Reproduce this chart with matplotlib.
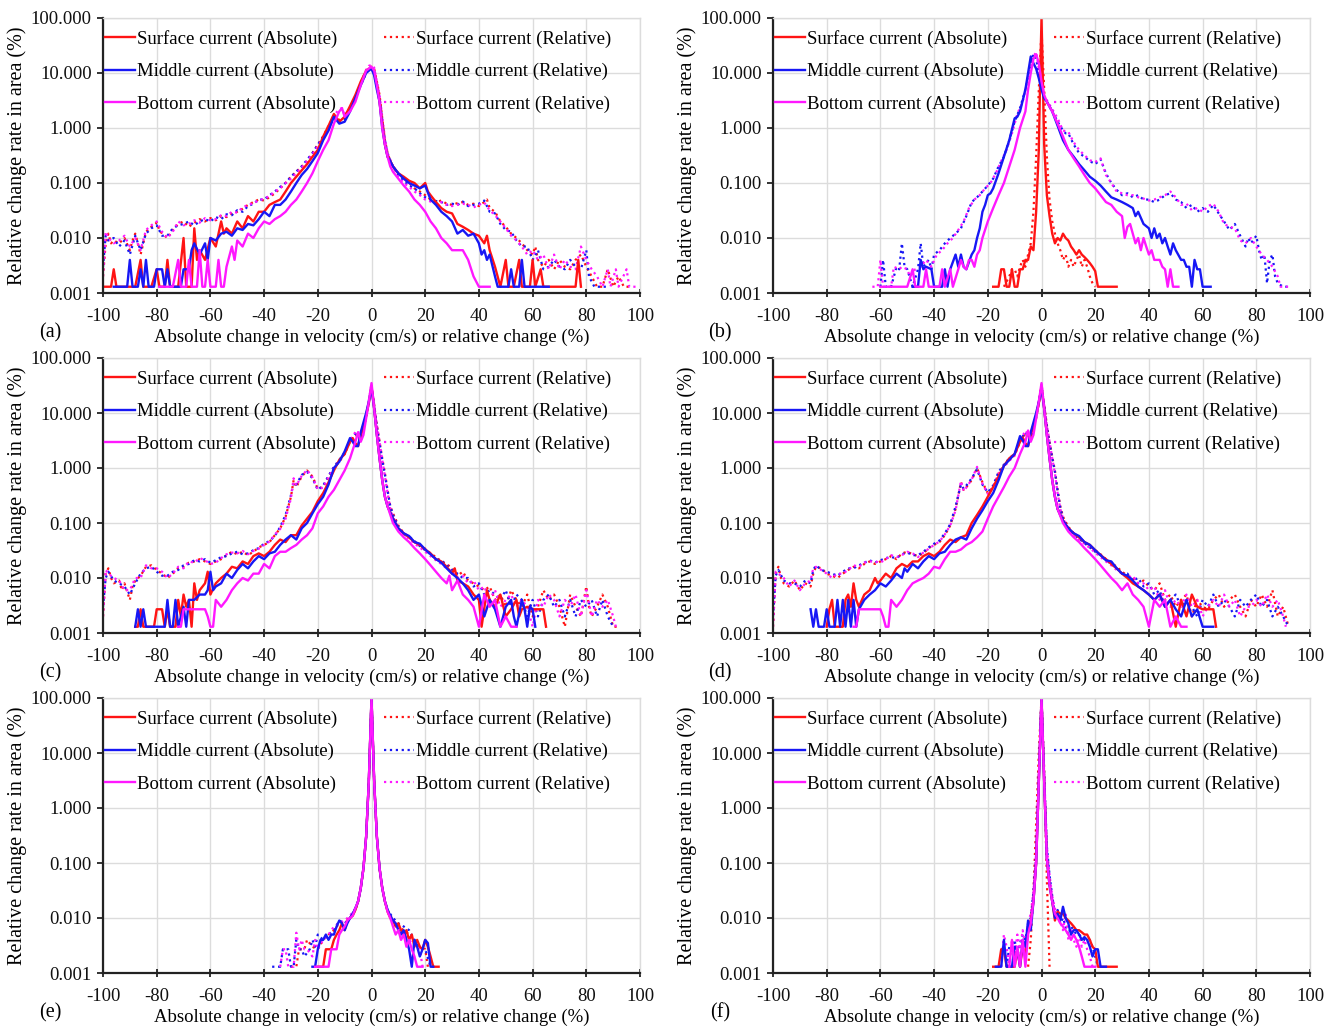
import matplotlib
matplotlib.use("Agg")
import matplotlib.pyplot as plt
from matplotlib.ticker import FixedLocator, FuncFormatter

plt.rcParams['font.family'] = ['Liberation Serif', 'DejaVu Serif']

# Etiquetas
LABELS = ["Surface current (Absolute)", "Middle current (Absolute)", "Bottom current (Absolute)",
          "Surface current (Relative)", "Middle current (Relative)", "Bottom current (Relative)"]
X_LABEL = "Absolute change in velocity (cm/s) or relative change (%)"
Y_LABEL = "Relative change rate in area (%)"
LETTERS = ["(a)", "(b)", "(c)", "(d)", "(e)", "(f)"]
X_TICKS = [-100, -80, -60, -40, -20, 0, 20, 40, 60, 80, 100]
Y_TICKS = [0.001, 0.01, 0.1, 1, 10, 100]

# ---------------- Panel (a) ----------------
A_SURF_ABS = [(-100, 0.0013), (-97, 0.0013), (-96, 0.0027), (-95, 0.0013), (-88, 0.0013), (-86, 0.004),
              (-85, 0.0013), (-82, 0.0013), (-80, 0.0027), (-79, 0.0013), (-77, 0.0013), (-76, 0.004),
              (-75, 0.0013), (-72, 0.0013), (-70, 0.01), (-69, 0.0013), (-67, 0.0013), (-66, 0.015),
              (-65, 0.004), (-64, 0.006), (-62, 0.004), (-60, 0.01), (-58, 0.007), (-56, 0.02), (-55, 0.012),
              (-54, 0.015), (-52, 0.012), (-50, 0.02), (-48, 0.015), (-46, 0.025), (-44, 0.02), (-42, 0.03),
              (-40, 0.03), (-38, 0.04), (-36, 0.045), (-34, 0.05), (-32, 0.07), (-30, 0.1), (-28, 0.13),
              (-26, 0.17), (-24, 0.22), (-22, 0.3), (-20, 0.4), (-18, 0.7), (-16, 1.1), (-14, 1.8), (-12, 1.3),
              (-10, 1.6), (-8, 2.5), (-6, 4), (-4, 7), (-2, 11), (-1, 12), (0, 12), (1, 10), (2, 6), (3, 3),
              (4, 1.2), (5, 0.5), (6, 0.3), (7, 0.25), (8, 0.2), (10, 0.15), (12, 0.13), (14, 0.11), (16, 0.1),
              (18, 0.08), (20, 0.1), (21, 0.07), (22, 0.06), (24, 0.045), (26, 0.035), (28, 0.03), (30, 0.028),
              (32, 0.018), (34, 0.016), (36, 0.014), (38, 0.012), (40, 0.011), (42, 0.008), (43, 0.011),
              (44, 0.006), (46, 0.003), (48, 0.0013), (50, 0.004), (51, 0.0013), (53, 0.0013), (55, 0.004),
              (56, 0.0013), (59, 0.0013), (60, 0.004), (61, 0.0013), (63, 0.0027), (64, 0.0013), (76, 0.0013),
              (77, 0.004), (78, 0.0013)]
A_MID_ABS = [(-96, 0.0013), (-91, 0.0013), (-90, 0.004), (-89, 0.0013), (-87, 0.0013), (-86, 0.0027),
             (-85, 0.0013), (-84, 0.004), (-83, 0.0013), (-81, 0.0013), (-80, 0.0027), (-78, 0.0027),
             (-77, 0.0013), (-76, 0.0027), (-75, 0.0013), (-71, 0.0013), (-70, 0.0027), (-68, 0.0027),
             (-67, 0.006), (-66, 0.008), (-64, 0.005), (-62, 0.008), (-61, 0.004), (-60, 0.01), (-58, 0.009),
             (-56, 0.012), (-54, 0.013), (-52, 0.011), (-50, 0.015), (-48, 0.014), (-46, 0.018), (-44, 0.017),
             (-42, 0.022), (-40, 0.03), (-38, 0.025), (-36, 0.04), (-34, 0.04), (-32, 0.05), (-30, 0.07),
             (-28, 0.1), (-26, 0.14), (-24, 0.18), (-22, 0.25), (-20, 0.35), (-18, 0.6), (-16, 0.9), (-14, 1.6),
             (-12, 1.2), (-10, 1.3), (-8, 2), (-6, 3.5), (-4, 6), (-2, 10), (-1, 11), (0, 12), (1, 9), (2, 5),
             (3, 3), (4, 1), (5, 0.5), (6, 0.3), (7, 0.25), (8, 0.2), (10, 0.15), (12, 0.12), (14, 0.1),
             (16, 0.09), (18, 0.08), (20, 0.09), (22, 0.05), (24, 0.04), (26, 0.03), (28, 0.025), (30, 0.02),
             (32, 0.012), (34, 0.014), (36, 0.011), (38, 0.012), (40, 0.008), (41, 0.005), (42, 0.006),
             (43, 0.004), (44, 0.005), (46, 0.002), (47, 0.0013), (51, 0.0013), (52, 0.0027), (53, 0.0013),
             (55, 0.0013), (56, 0.004), (57, 0.0013), (66, 0.0013)]
A_BOT_ABS = [(-79, 0.0013), (-74, 0.0013), (-72, 0.004), (-71, 0.0013), (-69, 0.0013), (-68, 0.004),
             (-67, 0.0013), (-65, 0.0013), (-64, 0.006), (-63, 0.0013), (-62, 0.0013), (-61, 0.004),
             (-60, 0.0013), (-58, 0.0013), (-57, 0.004), (-56, 0.0013), (-55, 0.0013), (-54, 0.003),
             (-52, 0.007), (-51, 0.004), (-50, 0.009), (-48, 0.007), (-46, 0.012), (-44, 0.01), (-42, 0.015),
             (-40, 0.02), (-38, 0.018), (-36, 0.022), (-34, 0.025), (-32, 0.03), (-30, 0.04), (-28, 0.05),
             (-26, 0.07), (-24, 0.1), (-22, 0.15), (-20, 0.25), (-18, 0.4), (-16, 0.6), (-14, 1.2), (-12, 2),
             (-11, 2.3), (-10, 1.6), (-8, 2), (-6, 3), (-4, 6), (-2, 11), (-1, 12), (0, 13), (1, 11), (2, 6),
             (3, 3), (4, 1), (5, 0.5), (6, 0.3), (7, 0.2), (8, 0.16), (10, 0.12), (12, 0.09), (14, 0.07),
             (16, 0.05), (18, 0.04), (20, 0.03), (22, 0.02), (24, 0.015), (26, 0.01), (28, 0.008), (30, 0.006),
             (32, 0.006), (34, 0.006), (36, 0.004), (38, 0.002), (40, 0.0013), (44, 0.0013)]
A_SURF_REL = [(-100, 0.002), (-99, 0.008), (-98, 0.012), (-97, 0.008), (-96, 0.009), (-94, 0.008), (-92, 0.01),
              (-90, 0.006), (-89, 0.009), (-88, 0.012), (-87, 0.008), (-86, 0.005), (-85, 0.008), (-84, 0.013),
              (-82, 0.016), (-80, 0.019), (-79, 0.014), (-78, 0.012), (-76, 0.01), (-74, 0.014), (-72, 0.018),
              (-70, 0.02), (-68, 0.016), (-66, 0.019), (-64, 0.022), (-62, 0.02), (-60, 0.023), (-58, 0.021),
              (-56, 0.025), (-54, 0.024), (-52, 0.028), (-50, 0.03), (-48, 0.034), (-46, 0.04), (-44, 0.045),
              (-42, 0.05), (-40, 0.048), (-38, 0.055), (-36, 0.065), (-34, 0.08), (-32, 0.1), (-30, 0.13),
              (-28, 0.16), (-26, 0.2), (-24, 0.25), (-22, 0.35), (-20, 0.5), (-18, 0.7), (-16, 1.1), (-14, 1.6),
              (-12, 1.4), (-10, 1.5), (-8, 2.3), (-6, 3.6), (-4, 6.5), (-2, 11), (-1, 13), (0, 13), (1, 12),
              (2, 7), (3, 4), (4, 1.5), (5, 0.6), (6, 0.35), (7, 0.25), (8, 0.2), (10, 0.15), (12, 0.12),
              (14, 0.1), (16, 0.08), (18, 0.07), (20, 0.06), (22, 0.05), (24, 0.045), (26, 0.048), (28, 0.042),
              (30, 0.04), (32, 0.043), (34, 0.045), (36, 0.04), (38, 0.042), (40, 0.038), (42, 0.045),
              (43, 0.05), (44, 0.035), (46, 0.03), (48, 0.02), (50, 0.016), (52, 0.012), (54, 0.01),
              (56, 0.008), (58, 0.006), (60, 0.005), (61, 0.007), (62, 0.004), (64, 0.003), (66, 0.004),
              (68, 0.0027), (70, 0.004), (72, 0.003), (74, 0.0027), (76, 0.004), (78, 0.005), (80, 0.003),
              (82, 0.002), (84, 0.0013), (86, 0.0013), (88, 0.0027), (90, 0.0013), (92, 0.002), (94, 0.0013),
              (96, 0.0013)]
A_MID_REL = [(-100, 0.003), (-99, 0.011), (-98, 0.009), (-96, 0.01), (-94, 0.007), (-92, 0.009), (-90, 0.005),
             (-88, 0.011), (-86, 0.006), (-84, 0.012), (-82, 0.015), (-80, 0.017), (-78, 0.011), (-76, 0.011),
             (-74, 0.015), (-72, 0.017), (-70, 0.018), (-68, 0.02), (-66, 0.017), (-64, 0.02), (-62, 0.022),
             (-60, 0.02), (-58, 0.024), (-56, 0.022), (-54, 0.027), (-52, 0.026), (-50, 0.032), (-48, 0.03),
             (-46, 0.038), (-44, 0.042), (-42, 0.05), (-40, 0.05), (-38, 0.06), (-36, 0.07), (-34, 0.085),
             (-32, 0.1), (-30, 0.13), (-26, 0.2), (-22, 0.35), (-18, 0.7), (-16, 1.0), (-14, 1.5), (-12, 1.3),
             (-10, 1.4), (-8, 2.2), (-6, 3.5), (-4, 6), (-2, 10), (-1, 12), (0, 12.5), (1, 11), (2, 6.5),
             (3, 3.5), (4, 1.4), (5, 0.6), (6, 0.33), (8, 0.2), (10, 0.14), (12, 0.11), (14, 0.09), (16, 0.08),
             (18, 0.065), (20, 0.055), (22, 0.05), (24, 0.047), (26, 0.045), (28, 0.04), (30, 0.042),
             (32, 0.04), (34, 0.046), (36, 0.038), (38, 0.04), (40, 0.042), (42, 0.048), (44, 0.03),
             (46, 0.028), (48, 0.018), (50, 0.014), (52, 0.013), (54, 0.009), (56, 0.007), (58, 0.007),
             (60, 0.004), (62, 0.006), (64, 0.0027), (66, 0.003), (68, 0.004), (70, 0.003), (72, 0.0027),
             (74, 0.004), (76, 0.003), (78, 0.0027), (80, 0.006), (81, 0.002), (83, 0.0013), (88, 0.0013)]
A_BOT_REL = [(-100, 0.002), (-99, 0.013), (-98, 0.01), (-96, 0.008), (-94, 0.009), (-92, 0.011), (-90, 0.007),
             (-88, 0.01), (-86, 0.006), (-84, 0.014), (-82, 0.017), (-80, 0.02), (-78, 0.013), (-76, 0.01),
             (-74, 0.013), (-72, 0.02), (-70, 0.017), (-68, 0.018), (-66, 0.021), (-64, 0.019), (-62, 0.023),
             (-60, 0.021), (-58, 0.022), (-56, 0.026), (-54, 0.025), (-52, 0.03), (-50, 0.029), (-48, 0.036),
             (-46, 0.04), (-44, 0.043), (-42, 0.048), (-40, 0.052), (-38, 0.058), (-36, 0.07), (-34, 0.08),
             (-32, 0.1), (-30, 0.12), (-26, 0.19), (-22, 0.33), (-18, 0.65), (-16, 0.95), (-14, 1.7),
             (-12, 2.2), (-11, 2.3), (-10, 1.7), (-8, 2.3), (-6, 3.5), (-4, 6.5), (-2, 11.5), (-1, 13.5),
             (0, 14), (1, 12.5), (2, 7), (3, 4), (4, 1.6), (5, 0.65), (6, 0.35), (8, 0.2), (10, 0.13),
             (12, 0.1), (14, 0.085), (16, 0.07), (18, 0.06), (20, 0.05), (22, 0.046), (24, 0.042), (26, 0.045),
             (28, 0.04), (30, 0.038), (32, 0.04), (34, 0.042), (36, 0.04), (38, 0.036), (40, 0.04), (42, 0.044),
             (44, 0.032), (46, 0.026), (48, 0.02), (50, 0.015), (52, 0.011), (54, 0.009), (56, 0.007),
             (58, 0.005), (60, 0.006), (62, 0.004), (64, 0.005), (66, 0.0027), (68, 0.005), (70, 0.0027),
             (72, 0.004), (74, 0.003), (76, 0.0027), (78, 0.007), (80, 0.004), (82, 0.0027), (84, 0.002),
             (86, 0.0013), (88, 0.0027), (89, 0.0013), (91, 0.0027), (92, 0.0013), (95, 0.0027), (96, 0.0013),
             (99, 0.0013)]

# ---------------- Panel (b) ----------------
B_SURF_ABS = [(-18, 0.0013), (-16, 0.0013), (-15, 0.0027), (-14, 0.0027), (-13, 0.0013), (-12, 0.0013),
              (-11, 0.0027), (-10, 0.0013), (-9, 0.0013), (-8, 0.0027), (-7, 0.0027), (-6, 0.004), (-5, 0.004),
              (-4, 0.007), (-3, 0.006), (-2, 0.03), (-1, 0.4), (-0.5, 8), (0, 100), (0.5, 8), (1, 0.5),
              (2, 0.06), (3, 0.025), (4, 0.012), (5, 0.008), (6, 0.01), (7, 0.009), (8, 0.012), (9, 0.01),
              (10, 0.009), (11, 0.007), (12, 0.006), (13, 0.005), (14, 0.006), (15, 0.005), (16, 0.0045),
              (17, 0.004), (18, 0.0035), (19, 0.003), (20, 0.0025), (21, 0.0013), (28, 0.0013)]
B_MID_ABS = [(-48, 0.0013), (-46, 0.0013), (-45, 0.004), (-44, 0.0027), (-43, 0.003), (-41, 0.0027),
             (-40, 0.0013), (-37, 0.0013), (-36, 0.0027), (-35, 0.0013), (-34, 0.0027), (-32, 0.005),
             (-31, 0.003), (-30, 0.005), (-29, 0.003), (-28, 0.0027), (-26, 0.005), (-25, 0.006), (-24, 0.01),
             (-23, 0.015), (-22, 0.03), (-21, 0.04), (-20, 0.06), (-19, 0.065), (-18, 0.08), (-16, 0.15),
             (-14, 0.3), (-12, 0.6), (-10, 1.5), (-9, 1.6), (-8, 2), (-6, 5), (-5, 10), (-4, 20), (-3, 15),
             (-2, 12), (-1, 8), (0, 5), (1, 3.5), (2, 3), (4, 2), (6, 1.1), (8, 0.6), (10, 0.4), (12, 0.3),
             (14, 0.22), (16, 0.17), (18, 0.13), (20, 0.11), (22, 0.09), (24, 0.07), (26, 0.055), (28, 0.05),
             (30, 0.045), (32, 0.04), (34, 0.035), (35, 0.025), (36, 0.03), (38, 0.018), (40, 0.015),
             (41, 0.01), (42, 0.015), (43, 0.01), (44, 0.012), (45, 0.008), (46, 0.01), (47, 0.007),
             (48, 0.005), (49, 0.008), (50, 0.006), (52, 0.004), (53, 0.004), (54, 0.003), (55, 0.003),
             (56, 0.0013), (57, 0.004), (58, 0.0027), (59, 0.0027), (60, 0.0013), (63, 0.0013)]
B_BOT_ABS = [(-60, 0.0013), (-50, 0.0013), (-48, 0.0027), (-47, 0.0013), (-44, 0.0013), (-43, 0.0027),
             (-42, 0.0013), (-38, 0.0013), (-37, 0.0027), (-36, 0.0013), (-34, 0.0027), (-33, 0.0013),
             (-31, 0.0027), (-30, 0.004), (-29, 0.003), (-28, 0.0027), (-27, 0.004), (-26, 0.004),
             (-25, 0.003), (-24, 0.005), (-23, 0.006), (-22, 0.01), (-20, 0.02), (-18, 0.035), (-16, 0.06),
             (-14, 0.1), (-12, 0.2), (-10, 0.4), (-8, 1), (-6, 2), (-5, 5), (-4, 10), (-3, 18), (-2, 22),
             (-1, 15), (0, 7), (1, 4), (2, 3), (4, 2), (6, 1.2), (8, 0.7), (10, 0.4), (12, 0.28), (14, 0.2),
             (16, 0.14), (18, 0.1), (20, 0.08), (22, 0.06), (24, 0.045), (26, 0.04), (28, 0.03), (30, 0.025),
             (31, 0.01), (32, 0.016), (33, 0.018), (34, 0.012), (35, 0.008), (36, 0.01), (37, 0.006),
             (38, 0.01), (39, 0.007), (40, 0.005), (41, 0.006), (42, 0.004), (44, 0.004), (45, 0.003),
             (46, 0.0027), (47, 0.0013), (48, 0.0027), (49, 0.0013), (51, 0.0013)]
B_SURF_REL = [(-14, 0.0013), (-12, 0.002), (-11, 0.0027), (-10, 0.0027), (-9, 0.002), (-8, 0.003), (-7, 0.004),
              (-6, 0.003), (-5, 0.005), (-4, 0.008), (-3, 0.03), (-2, 0.3), (-1, 5), (0, 60), (1, 5), (2, 0.3),
              (3, 0.05), (4, 0.02), (5, 0.012), (6, 0.008), (7, 0.006), (8, 0.004), (9, 0.005), (10, 0.003),
              (11, 0.004), (12, 0.003), (13, 0.004), (14, 0.005), (15, 0.003), (16, 0.004), (17, 0.003),
              (18, 0.002), (19, 0.0015), (20, 0.0013)]
B_MID_REL = [(-60, 0.0013), (-59, 0.004), (-58, 0.0013), (-56, 0.0013), (-54, 0.003), (-53, 0.0027),
             (-52, 0.008), (-51, 0.003), (-50, 0.0027), (-48, 0.0013), (-46, 0.0027), (-45, 0.008),
             (-44, 0.003), (-42, 0.004), (-41, 0.0027), (-40, 0.005), (-38, 0.006), (-36, 0.008), (-34, 0.01),
             (-32, 0.012), (-30, 0.015), (-28, 0.025), (-26, 0.045), (-24, 0.055), (-22, 0.07), (-20, 0.09),
             (-18, 0.12), (-16, 0.2), (-14, 0.3), (-12, 0.6), (-10, 1.3), (-8, 2.3), (-6, 5), (-4, 15),
             (-3, 22), (-2, 18), (-1, 10), (0, 6), (1, 3.5), (2, 3), (4, 2), (6, 1.3), (8, 0.9), (9, 0.8),
             (10, 0.8), (12, 0.5), (14, 0.35), (16, 0.3), (18, 0.25), (20, 0.22), (22, 0.27), (24, 0.15),
             (26, 0.1), (28, 0.075), (30, 0.06), (32, 0.065), (34, 0.055), (36, 0.06), (38, 0.05), (40, 0.05),
             (42, 0.045), (44, 0.05), (46, 0.06), (48, 0.065), (50, 0.05), (52, 0.045), (54, 0.035),
             (56, 0.04), (58, 0.03), (60, 0.035), (62, 0.03), (64, 0.04), (66, 0.028), (68, 0.02), (70, 0.014),
             (72, 0.018), (74, 0.011), (76, 0.007), (77, 0.01), (78, 0.008), (80, 0.011), (81, 0.006),
             (82, 0.004), (83, 0.005), (84, 0.0015), (85, 0.004), (86, 0.005), (87, 0.002), (88, 0.0015),
             (90, 0.0013), (92, 0.0013)]
B_BOT_REL = [(-63, 0.0013), (-61, 0.0013), (-60, 0.004), (-59, 0.0013), (-56, 0.0013), (-55, 0.003),
             (-53, 0.0027), (-52, 0.003), (-50, 0.0027), (-49, 0.002), (-47, 0.0027), (-45, 0.003),
             (-43, 0.004), (-41, 0.003), (-39, 0.005), (-37, 0.006), (-35, 0.008), (-33, 0.01), (-31, 0.014),
             (-29, 0.02), (-27, 0.035), (-25, 0.05), (-23, 0.06), (-21, 0.08), (-19, 0.1), (-17, 0.15),
             (-15, 0.25), (-13, 0.4), (-11, 0.8), (-9, 1.8), (-7, 3), (-5, 8), (-3, 20), (-2, 24), (-1, 12),
             (0, 5), (1, 3.5), (2, 3.2), (4, 2.2), (6, 1.5), (8, 0.9), (10, 0.85), (12, 0.55), (14, 0.4),
             (16, 0.32), (18, 0.26), (20, 0.24), (22, 0.28), (24, 0.14), (26, 0.1), (28, 0.07), (30, 0.065),
             (32, 0.06), (34, 0.06), (36, 0.055), (38, 0.052), (40, 0.048), (42, 0.05), (44, 0.055),
             (46, 0.06), (48, 0.07), (50, 0.055), (52, 0.04), (54, 0.042), (56, 0.032), (58, 0.035),
             (60, 0.03), (62, 0.038), (64, 0.042), (66, 0.03), (68, 0.018), (70, 0.016), (72, 0.015),
             (74, 0.009), (76, 0.008), (78, 0.01), (80, 0.007), (82, 0.005), (84, 0.004), (86, 0.003),
             (88, 0.002), (89, 0.0013), (92, 0.0013)]

# ---------------- Panel (c) ----------------
C_SURF_ABS = [(-88, 0.0013), (-87, 0.0013), (-86, 0.0027), (-85, 0.0013), (-81, 0.0013), (-80, 0.0027),
              (-78, 0.0027), (-77, 0.0013), (-76, 0.0027), (-75, 0.0013), (-73, 0.0013), (-72, 0.004),
              (-71, 0.002), (-70, 0.005), (-69, 0.003), (-68, 0.004), (-67, 0.0013), (-66, 0.008), (-65, 0.004),
              (-64, 0.006), (-62, 0.008), (-61, 0.013), (-60, 0.005), (-58, 0.008), (-56, 0.01), (-54, 0.012),
              (-52, 0.016), (-50, 0.015), (-48, 0.02), (-46, 0.018), (-44, 0.025), (-42, 0.028), (-40, 0.025),
              (-38, 0.03), (-36, 0.04), (-34, 0.05), (-32, 0.045), (-30, 0.06), (-28, 0.06), (-26, 0.09),
              (-24, 0.12), (-22, 0.16), (-20, 0.25), (-18, 0.35), (-16, 0.55), (-14, 0.9), (-12, 1.4),
              (-10, 1.8), (-8, 3), (-7, 3.5), (-6, 2.8), (-5, 2.5), (-4, 4), (-2, 9), (-1, 15), (0, 30),
              (1, 12), (2, 4), (3, 1.5), (4, 0.6), (5, 0.3), (6, 0.2), (8, 0.12), (10, 0.08), (12, 0.065),
              (14, 0.055), (16, 0.045), (18, 0.04), (20, 0.033), (22, 0.028), (24, 0.022), (26, 0.02),
              (28, 0.016), (30, 0.012), (31, 0.015), (32, 0.009), (34, 0.008), (36, 0.007), (38, 0.005),
              (40, 0.004), (41, 0.0013), (43, 0.006), (44, 0.004), (46, 0.003), (48, 0.005), (50, 0.002),
              (52, 0.0027), (54, 0.004), (55, 0.002), (56, 0.0027), (58, 0.003), (60, 0.0027), (62, 0.0027),
              (64, 0.0027), (65, 0.0013)]
C_MID_ABS = [(-88, 0.0013), (-87, 0.0027), (-86, 0.0013), (-85, 0.0027), (-84, 0.0013), (-77, 0.0013),
             (-76, 0.004), (-75, 0.0013), (-74, 0.0013), (-73, 0.004), (-72, 0.0013), (-70, 0.003),
             (-69, 0.0013), (-68, 0.004), (-66, 0.004), (-64, 0.005), (-62, 0.005), (-61, 0.006), (-60, 0.013),
             (-59, 0.006), (-58, 0.007), (-56, 0.008), (-54, 0.012), (-52, 0.01), (-50, 0.014), (-48, 0.018),
             (-46, 0.015), (-44, 0.02), (-42, 0.025), (-40, 0.022), (-38, 0.028), (-36, 0.03), (-34, 0.04),
             (-32, 0.05), (-30, 0.06), (-28, 0.05), (-26, 0.08), (-24, 0.1), (-22, 0.15), (-20, 0.22),
             (-18, 0.3), (-16, 0.5), (-14, 1.0), (-12, 1.3), (-10, 2), (-8, 3.5), (-7, 3), (-6, 2.5),
             (-5, 2.5), (-4, 4.5), (-2, 10), (-1, 16), (0, 28), (1, 12), (2, 4), (3, 1.5), (4, 0.6), (5, 0.3),
             (6, 0.2), (8, 0.12), (10, 0.08), (12, 0.065), (14, 0.058), (16, 0.045), (18, 0.042), (20, 0.033),
             (22, 0.027), (24, 0.022), (26, 0.019), (28, 0.015), (30, 0.012), (32, 0.01), (34, 0.008),
             (36, 0.006), (38, 0.004), (40, 0.005), (42, 0.002), (44, 0.004), (46, 0.0027), (48, 0.0013),
             (50, 0.003), (52, 0.004), (53, 0.002), (54, 0.0013), (56, 0.004), (57, 0.0027), (58, 0.0013),
             (59, 0.003), (60, 0.0027), (61, 0.0013)]
C_BOT_ABS = [(-72, 0.0013), (-71, 0.0013), (-70, 0.0027), (-62, 0.0027), (-61, 0.002), (-60, 0.0013),
             (-59, 0.0013), (-58, 0.004), (-56, 0.003), (-54, 0.004), (-52, 0.006), (-50, 0.008), (-48, 0.01),
             (-46, 0.009), (-44, 0.012), (-42, 0.012), (-40, 0.018), (-38, 0.015), (-36, 0.025), (-34, 0.03),
             (-32, 0.03), (-30, 0.035), (-28, 0.04), (-26, 0.05), (-24, 0.06), (-22, 0.08), (-20, 0.15),
             (-18, 0.2), (-16, 0.3), (-14, 0.4), (-12, 0.6), (-10, 0.9), (-8, 1.5), (-6, 3), (-5, 4.5),
             (-4, 3), (-3, 4), (-2, 8), (-1, 16), (0, 35), (1, 12), (2, 4), (3, 1.5), (4, 0.6), (5, 0.3),
             (6, 0.2), (8, 0.1), (10, 0.07), (12, 0.055), (14, 0.045), (16, 0.035), (18, 0.028), (20, 0.022),
             (22, 0.017), (24, 0.013), (26, 0.01), (28, 0.008), (29, 0.011), (30, 0.006), (32, 0.009),
             (34, 0.005), (36, 0.004), (38, 0.003), (40, 0.0013), (42, 0.005), (44, 0.003), (46, 0.004),
             (48, 0.0013), (50, 0.002), (52, 0.0013), (54, 0.0013)]
C_SURF_REL = [(-100, 0.002), (-99, 0.012), (-98, 0.015), (-97, 0.01), (-96, 0.008), (-94, 0.009), (-93, 0.006),
              (-92, 0.008), (-90, 0.004), (-89, 0.007), (-88, 0.009), (-86, 0.011), (-84, 0.016), (-82, 0.017),
              (-80, 0.014), (-78, 0.012), (-76, 0.01), (-74, 0.012), (-72, 0.015), (-70, 0.016), (-68, 0.019),
              (-66, 0.02), (-64, 0.022), (-62, 0.02), (-60, 0.018), (-58, 0.02), (-56, 0.022), (-54, 0.026),
              (-52, 0.03), (-50, 0.027), (-48, 0.03), (-46, 0.026), (-44, 0.03), (-42, 0.036), (-40, 0.04),
              (-38, 0.045), (-36, 0.06), (-34, 0.08), (-32, 0.13), (-30, 0.3), (-29, 0.6), (-28, 0.45),
              (-26, 0.7), (-24, 0.9), (-22, 0.7), (-20, 0.42), (-18, 0.45), (-16, 0.7), (-14, 1.0), (-12, 1.3),
              (-10, 1.8), (-8, 3), (-6, 4), (-4, 3.5), (-2, 8), (-1, 15), (0, 30), (1, 14), (2, 6), (3, 3),
              (4, 1.5), (5, 0.8), (6, 0.4), (7, 0.2), (8, 0.15), (10, 0.09), (12, 0.065), (14, 0.055),
              (16, 0.045), (18, 0.04), (20, 0.034), (22, 0.028), (24, 0.024), (26, 0.02), (28, 0.018),
              (30, 0.015), (32, 0.011), (34, 0.013), (36, 0.009), (38, 0.008), (40, 0.007), (42, 0.006),
              (44, 0.007), (46, 0.004), (48, 0.005), (50, 0.003), (52, 0.006), (54, 0.004), (56, 0.003),
              (58, 0.005), (60, 0.002), (62, 0.003), (64, 0.006), (66, 0.004), (68, 0.005), (70, 0.003),
              (72, 0.0013), (74, 0.005), (76, 0.003), (78, 0.002), (80, 0.007), (81, 0.003), (82, 0.002),
              (84, 0.003), (86, 0.005), (88, 0.003), (90, 0.0013), (92, 0.0013)]
C_MID_REL = [(-100, 0.003), (-99, 0.01), (-98, 0.013), (-96, 0.009), (-94, 0.008), (-92, 0.007), (-90, 0.005),
             (-88, 0.008), (-86, 0.012), (-84, 0.015), (-82, 0.016), (-80, 0.013), (-78, 0.011), (-76, 0.011),
             (-74, 0.013), (-72, 0.014), (-70, 0.017), (-68, 0.018), (-66, 0.021), (-64, 0.02), (-62, 0.022),
             (-60, 0.019), (-58, 0.021), (-56, 0.024), (-54, 0.025), (-52, 0.028), (-50, 0.03), (-48, 0.027),
             (-46, 0.028), (-44, 0.032), (-42, 0.035), (-40, 0.042), (-38, 0.047), (-36, 0.058), (-34, 0.085),
             (-32, 0.14), (-30, 0.32), (-29, 0.55), (-28, 0.5), (-26, 0.75), (-24, 0.85), (-22, 0.65),
             (-20, 0.4), (-18, 0.48), (-16, 0.72), (-14, 1.05), (-12, 1.4), (-10, 1.9), (-8, 3.1), (-6, 4.2),
             (-4, 3.3), (-2, 8.5), (-1, 16), (0, 31), (1, 13), (2, 5.5), (3, 2.8), (4, 1.4), (5, 0.75),
             (6, 0.38), (7, 0.2), (8, 0.14), (10, 0.085), (12, 0.062), (14, 0.057), (16, 0.047), (18, 0.038),
             (20, 0.032), (22, 0.027), (24, 0.022), (26, 0.021), (28, 0.017), (30, 0.014), (32, 0.012),
             (34, 0.01), (36, 0.01), (38, 0.007), (40, 0.008), (42, 0.005), (44, 0.006), (46, 0.005),
             (48, 0.004), (50, 0.006), (52, 0.003), (54, 0.005), (56, 0.004), (58, 0.002), (60, 0.004),
             (62, 0.002), (64, 0.004), (66, 0.005), (68, 0.003), (70, 0.004), (72, 0.002), (74, 0.004),
             (76, 0.002), (78, 0.004), (80, 0.003), (82, 0.004), (84, 0.002), (86, 0.004), (88, 0.002),
             (90, 0.0013)]
C_BOT_REL = [(-100, 0.002), (-99, 0.014), (-98, 0.012), (-96, 0.01), (-94, 0.009), (-92, 0.006), (-90, 0.006),
             (-88, 0.01), (-86, 0.01), (-84, 0.017), (-82, 0.015), (-80, 0.015), (-78, 0.013), (-76, 0.01),
             (-74, 0.012), (-72, 0.016), (-70, 0.015), (-68, 0.02), (-66, 0.019), (-64, 0.023), (-62, 0.021),
             (-60, 0.018), (-58, 0.019), (-56, 0.023), (-54, 0.027), (-52, 0.029), (-50, 0.028), (-48, 0.031),
             (-46, 0.027), (-44, 0.031), (-42, 0.034), (-40, 0.04), (-38, 0.046), (-36, 0.062), (-34, 0.078),
             (-32, 0.12), (-30, 0.28), (-29, 0.65), (-28, 0.48), (-26, 0.72), (-24, 0.92), (-22, 0.68),
             (-20, 0.41), (-18, 0.44), (-16, 0.68), (-14, 1.0), (-12, 1.35), (-10, 1.8), (-8, 3.2), (-6, 4.5),
             (-4, 3.2), (-2, 9), (-1, 17), (0, 34), (1, 14), (2, 6), (3, 3), (4, 1.4), (5, 0.7), (6, 0.35),
             (7, 0.18), (8, 0.13), (10, 0.08), (12, 0.06), (14, 0.052), (16, 0.042), (18, 0.036), (20, 0.03),
             (22, 0.025), (24, 0.021), (26, 0.018), (28, 0.015), (30, 0.013), (32, 0.01), (34, 0.011),
             (36, 0.008), (38, 0.009), (40, 0.006), (42, 0.007), (44, 0.004), (46, 0.006), (48, 0.003),
             (50, 0.004), (52, 0.005), (54, 0.003), (56, 0.004), (58, 0.003), (60, 0.0013), (62, 0.004),
             (64, 0.003), (66, 0.005), (68, 0.004), (70, 0.002), (72, 0.004), (74, 0.003), (76, 0.005),
             (78, 0.002), (80, 0.006), (82, 0.002), (84, 0.004), (86, 0.003), (88, 0.004), (90, 0.002),
             (91, 0.0013)]

# ---------------- Panel (d) ----------------
D_SURF_ABS = [(-80, 0.0013), (-79, 0.0027), (-78, 0.004), (-77, 0.0013), (-74, 0.0013), (-73, 0.004),
              (-72, 0.005), (-71, 0.003), (-70, 0.008), (-69, 0.004), (-68, 0.003), (-66, 0.005), (-64, 0.006),
              (-62, 0.01), (-61, 0.008), (-60, 0.009), (-58, 0.012), (-56, 0.01), (-54, 0.015), (-52, 0.018),
              (-50, 0.016), (-48, 0.02), (-46, 0.02), (-44, 0.025), (-42, 0.028), (-40, 0.025), (-38, 0.03),
              (-36, 0.04), (-34, 0.05), (-32, 0.045), (-30, 0.055), (-28, 0.06), (-26, 0.1), (-24, 0.14),
              (-22, 0.2), (-20, 0.3), (-18, 0.45), (-16, 0.7), (-14, 1.1), (-12, 1.5), (-10, 1.8), (-8, 3),
              (-7, 3.6), (-6, 2.8), (-5, 2.5), (-4, 4), (-2, 9), (-1, 15), (0, 30), (1, 12), (2, 4), (3, 1.5),
              (4, 0.6), (5, 0.3), (6, 0.18), (8, 0.11), (10, 0.08), (12, 0.065), (14, 0.055), (16, 0.045),
              (18, 0.04), (20, 0.032), (22, 0.026), (24, 0.022), (26, 0.018), (28, 0.015), (30, 0.012),
              (32, 0.01), (34, 0.008), (36, 0.007), (38, 0.006), (40, 0.005), (42, 0.004), (44, 0.005),
              (46, 0.003), (48, 0.004), (50, 0.0013), (52, 0.004), (54, 0.002), (56, 0.005), (58, 0.003),
              (60, 0.0027), (62, 0.0027), (64, 0.0027), (65, 0.0013)]
D_MID_ABS = [(-86, 0.0027), (-85, 0.0013), (-84, 0.0027), (-83, 0.0013), (-81, 0.0013), (-80, 0.0027),
             (-79, 0.0013), (-77, 0.0013), (-76, 0.004), (-75, 0.0013), (-74, 0.004), (-73, 0.0013),
             (-72, 0.004), (-71, 0.0013), (-70, 0.004), (-69, 0.0013), (-68, 0.0027), (-66, 0.004),
             (-64, 0.005), (-62, 0.006), (-60, 0.008), (-58, 0.007), (-56, 0.009), (-54, 0.012), (-52, 0.01),
             (-51, 0.015), (-50, 0.013), (-48, 0.018), (-46, 0.015), (-44, 0.02), (-42, 0.025), (-40, 0.022),
             (-38, 0.028), (-36, 0.03), (-34, 0.04), (-32, 0.05), (-30, 0.055), (-28, 0.05), (-26, 0.08),
             (-24, 0.12), (-22, 0.17), (-20, 0.25), (-18, 0.35), (-16, 0.6), (-14, 1.1), (-12, 1.4),
             (-10, 1.8), (-8, 3.8), (-7, 3.2), (-6, 2.5), (-5, 2.5), (-4, 4.5), (-2, 10), (-1, 16), (0, 28),
             (1, 12), (2, 4), (3, 1.5), (4, 0.6), (5, 0.3), (6, 0.18), (8, 0.11), (10, 0.08), (12, 0.065),
             (14, 0.058), (16, 0.045), (18, 0.04), (20, 0.032), (22, 0.026), (24, 0.021), (26, 0.02),
             (28, 0.015), (30, 0.012), (32, 0.011), (34, 0.009), (36, 0.007), (38, 0.006), (40, 0.005),
             (42, 0.004), (44, 0.005), (46, 0.003), (48, 0.004), (50, 0.0027), (52, 0.002), (54, 0.004),
             (56, 0.002), (58, 0.0027), (60, 0.0013), (62, 0.0013), (64, 0.0013)]
D_BOT_ABS = [(-70, 0.0013), (-69, 0.0013), (-68, 0.0027), (-60, 0.0027), (-59, 0.002), (-58, 0.0013),
             (-57, 0.0013), (-56, 0.004), (-54, 0.003), (-52, 0.004), (-50, 0.006), (-48, 0.008), (-46, 0.009),
             (-44, 0.01), (-42, 0.012), (-40, 0.016), (-38, 0.015), (-36, 0.022), (-34, 0.03), (-32, 0.03),
             (-30, 0.033), (-28, 0.04), (-26, 0.045), (-24, 0.055), (-22, 0.07), (-20, 0.12), (-18, 0.2),
             (-16, 0.3), (-14, 0.45), (-12, 0.7), (-10, 1.0), (-8, 1.8), (-6, 3), (-5, 4.8), (-4, 3),
             (-3, 4), (-2, 8), (-1, 16), (0, 35), (1, 12), (2, 4), (3, 1.5), (4, 0.6), (5, 0.3), (6, 0.18),
             (8, 0.1), (10, 0.07), (12, 0.055), (14, 0.045), (16, 0.035), (18, 0.028), (20, 0.022),
             (22, 0.017), (24, 0.013), (26, 0.01), (28, 0.008), (30, 0.006), (32, 0.008), (34, 0.005),
             (36, 0.004), (38, 0.003), (40, 0.0013), (42, 0.004), (44, 0.003), (46, 0.004), (48, 0.0013),
             (50, 0.002), (52, 0.0013), (54, 0.0013)]
D_SURF_REL = [(-100, 0.0013), (-99, 0.012), (-98, 0.016), (-97, 0.01), (-96, 0.008), (-94, 0.007), (-92, 0.009),
              (-90, 0.006), (-88, 0.008), (-86, 0.007), (-85, 0.012), (-84, 0.016), (-82, 0.015), (-80, 0.012),
              (-78, 0.011), (-76, 0.01), (-74, 0.012), (-72, 0.014), (-70, 0.016), (-68, 0.015), (-66, 0.018),
              (-64, 0.02), (-62, 0.018), (-60, 0.02), (-58, 0.022), (-56, 0.025), (-54, 0.022), (-52, 0.028),
              (-50, 0.03), (-48, 0.027), (-46, 0.025), (-44, 0.028), (-42, 0.035), (-40, 0.04), (-38, 0.045),
              (-36, 0.06), (-34, 0.09), (-32, 0.18), (-30, 0.55), (-29, 0.4), (-28, 0.45), (-26, 0.6),
              (-24, 1.0), (-22, 0.55), (-20, 0.35), (-18, 0.45), (-16, 0.8), (-14, 1.1), (-12, 1.4),
              (-10, 1.7), (-8, 3), (-6, 4.2), (-4, 3.5), (-2, 8), (-1, 15), (0, 30), (1, 14), (2, 6), (3, 3),
              (4, 1.6), (5, 0.9), (6, 0.4), (7, 0.2), (8, 0.13), (10, 0.085), (12, 0.065), (14, 0.055),
              (16, 0.045), (18, 0.038), (20, 0.032), (22, 0.027), (24, 0.022), (26, 0.019), (28, 0.016),
              (30, 0.013), (32, 0.011), (34, 0.01), (36, 0.008), (38, 0.009), (40, 0.007), (42, 0.006),
              (44, 0.008), (46, 0.004), (48, 0.005), (50, 0.003), (52, 0.004), (54, 0.005), (56, 0.002),
              (58, 0.004), (60, 0.003), (62, 0.0027), (64, 0.004), (66, 0.005), (68, 0.003), (70, 0.004),
              (72, 0.005), (74, 0.003), (76, 0.002), (78, 0.004), (80, 0.003), (82, 0.005), (84, 0.003),
              (86, 0.006), (88, 0.002), (90, 0.003), (92, 0.0013)]
D_MID_REL = [(-100, 0.002), (-99, 0.011), (-98, 0.014), (-96, 0.009), (-94, 0.008), (-92, 0.008), (-90, 0.007),
             (-88, 0.009), (-86, 0.008), (-85, 0.014), (-84, 0.017), (-82, 0.014), (-80, 0.013), (-78, 0.012),
             (-76, 0.011), (-74, 0.013), (-72, 0.015), (-70, 0.015), (-68, 0.017), (-66, 0.019), (-64, 0.021),
             (-62, 0.019), (-60, 0.021), (-58, 0.023), (-56, 0.024), (-54, 0.023), (-52, 0.027), (-50, 0.029),
             (-48, 0.026), (-46, 0.026), (-44, 0.03), (-42, 0.036), (-40, 0.042), (-38, 0.048), (-36, 0.065),
             (-34, 0.095), (-32, 0.2), (-30, 0.5), (-29, 0.42), (-28, 0.48), (-26, 0.65), (-24, 0.95),
             (-22, 0.5), (-20, 0.36), (-18, 0.48), (-16, 0.85), (-14, 1.15), (-12, 1.5), (-10, 1.8), (-8, 3.2),
             (-6, 4.4), (-4, 3.4), (-2, 8.5), (-1, 16), (0, 31), (1, 13), (2, 5.5), (3, 2.8), (4, 1.5),
             (5, 0.85), (6, 0.38), (7, 0.19), (8, 0.12), (10, 0.08), (12, 0.062), (14, 0.052), (16, 0.043),
             (18, 0.036), (20, 0.03), (22, 0.026), (24, 0.021), (26, 0.018), (28, 0.015), (30, 0.012),
             (32, 0.012), (34, 0.009), (36, 0.01), (38, 0.007), (40, 0.008), (42, 0.005), (44, 0.006),
             (46, 0.003), (48, 0.004), (50, 0.005), (52, 0.003), (54, 0.004), (56, 0.003), (58, 0.002),
             (60, 0.004), (62, 0.003), (64, 0.005), (66, 0.003), (68, 0.004), (70, 0.003), (72, 0.002),
             (74, 0.004), (76, 0.003), (78, 0.004), (80, 0.005), (82, 0.003), (84, 0.004), (86, 0.002),
             (88, 0.003), (90, 0.002), (92, 0.0013)]
D_BOT_REL = [(-100, 0.0013), (-99, 0.013), (-98, 0.012), (-96, 0.01), (-94, 0.007), (-92, 0.009), (-90, 0.006),
             (-88, 0.008), (-86, 0.009), (-85, 0.015), (-84, 0.016), (-82, 0.014), (-80, 0.012), (-78, 0.01),
             (-76, 0.012), (-74, 0.012), (-72, 0.014), (-70, 0.017), (-68, 0.016), (-66, 0.019), (-64, 0.02),
             (-62, 0.02), (-60, 0.019), (-58, 0.022), (-56, 0.026), (-54, 0.024), (-52, 0.026), (-50, 0.03),
             (-48, 0.028), (-46, 0.024), (-44, 0.029), (-42, 0.034), (-40, 0.04), (-38, 0.046), (-36, 0.062),
             (-34, 0.09), (-32, 0.17), (-30, 0.58), (-29, 0.38), (-28, 0.44), (-26, 0.62), (-24, 1.05),
             (-22, 0.52), (-20, 0.34), (-18, 0.44), (-16, 0.78), (-14, 1.05), (-12, 1.35), (-10, 1.7),
             (-8, 3.1), (-6, 4.8), (-4, 3.2), (-2, 9), (-1, 17), (0, 34), (1, 14), (2, 6), (3, 3), (4, 1.5),
             (5, 0.8), (6, 0.35), (7, 0.18), (8, 0.12), (10, 0.08), (12, 0.06), (14, 0.05), (16, 0.042),
             (18, 0.035), (20, 0.029), (22, 0.024), (24, 0.02), (26, 0.017), (28, 0.014), (30, 0.012),
             (32, 0.01), (34, 0.011), (36, 0.008), (38, 0.008), (40, 0.006), (42, 0.007), (44, 0.004),
             (46, 0.006), (48, 0.003), (50, 0.004), (52, 0.003), (54, 0.005), (56, 0.003), (58, 0.004),
             (60, 0.002), (62, 0.003), (64, 0.004), (66, 0.003), (68, 0.005), (70, 0.003), (72, 0.004),
             (74, 0.002), (76, 0.003), (78, 0.003), (80, 0.004), (82, 0.003), (84, 0.005), (86, 0.003),
             (88, 0.004), (90, 0.002), (91, 0.0013)]

# ---------------- Panel (e) ----------------
E_SURF_ABS = [(-20, 0.0013), (-18, 0.0013), (-17, 0.0027), (-15, 0.0027), (-14, 0.004), (-13, 0.005),
              (-12, 0.006), (-11, 0.008), (-10, 0.006), (-9, 0.009), (-8, 0.01), (-7, 0.011), (-6, 0.014),
              (-5, 0.02), (-4, 0.035), (-3, 0.08), (-2, 0.3), (-1, 3), (0, 100), (1, 3), (2, 0.3), (3, 0.08),
              (4, 0.035), (5, 0.02), (6, 0.013), (7, 0.01), (8, 0.009), (9, 0.007), (10, 0.008), (11, 0.006),
              (12, 0.005), (13, 0.006), (14, 0.004), (15, 0.005), (16, 0.003), (17, 0.004), (18, 0.003),
              (19, 0.0027), (20, 0.004), (21, 0.003), (22, 0.002), (23, 0.0013), (25, 0.0013)]
E_MID_ABS = [(-22, 0.0013), (-21, 0.0013), (-20, 0.0027), (-19, 0.004), (-18, 0.004), (-17, 0.005),
             (-16, 0.004), (-15, 0.005), (-14, 0.005), (-13, 0.007), (-12, 0.009), (-11, 0.008), (-10, 0.006),
             (-9, 0.008), (-8, 0.01), (-7, 0.012), (-6, 0.015), (-5, 0.02), (-4, 0.035), (-3, 0.08), (-2, 0.3),
             (-1, 3), (0, 100), (1, 3), (2, 0.3), (3, 0.08), (4, 0.035), (5, 0.02), (6, 0.014), (7, 0.011),
             (8, 0.009), (9, 0.008), (10, 0.006), (11, 0.005), (12, 0.006), (13, 0.004), (14, 0.0027),
             (15, 0.0013), (16, 0.004), (17, 0.003), (18, 0.002), (19, 0.0027), (20, 0.004), (21, 0.0035),
             (22, 0.0013), (23, 0.0013)]
E_BOT_ABS = [(-21, 0.0013), (-16, 0.0013), (-15, 0.0027), (-13, 0.0027), (-12, 0.005), (-11, 0.006),
             (-10, 0.007), (-9, 0.009), (-8, 0.01), (-7, 0.011), (-6, 0.015), (-5, 0.02), (-4, 0.035),
             (-3, 0.08), (-2, 0.3), (-1, 3), (0, 100), (1, 3), (2, 0.3), (3, 0.08), (4, 0.035), (5, 0.02),
             (6, 0.013), (7, 0.01), (8, 0.007), (9, 0.005), (10, 0.006), (11, 0.004), (12, 0.005),
             (13, 0.003), (14, 0.004), (15, 0.0027), (16, 0.002), (17, 0.0013), (19, 0.0013)]
E_SURF_REL = [(-30, 0.0013), (-28, 0.0013), (-27, 0.0027), (-25, 0.0027), (-24, 0.004), (-22, 0.003),
              (-20, 0.0027), (-18, 0.004), (-16, 0.005), (-14, 0.006), (-12, 0.008), (-10, 0.008), (-8, 0.01),
              (-6, 0.014), (-5, 0.02), (-4, 0.035), (-3, 0.08), (-2, 0.3), (-1, 3), (0, 100), (1, 3), (2, 0.3),
              (3, 0.08), (4, 0.035), (5, 0.02), (6, 0.014), (8, 0.009), (10, 0.007), (12, 0.006), (14, 0.005),
              (16, 0.004), (18, 0.003), (20, 0.0027), (21, 0.0013)]
E_MID_REL = [(-37, 0.0013), (-34, 0.0013), (-33, 0.0027), (-31, 0.0027), (-30, 0.0013), (-29, 0.0013),
             (-28, 0.004), (-27, 0.0027), (-26, 0.0027), (-25, 0.002), (-23, 0.0027), (-22, 0.004),
             (-21, 0.003), (-20, 0.005), (-18, 0.004), (-16, 0.005), (-14, 0.006), (-12, 0.009), (-10, 0.008),
             (-8, 0.01), (-6, 0.015), (-5, 0.02), (-4, 0.035), (-3, 0.08), (-2, 0.3), (-1, 3), (0, 100),
             (1, 3), (2, 0.3), (3, 0.08), (4, 0.035), (5, 0.02), (6, 0.014), (8, 0.01), (10, 0.008),
             (12, 0.007), (14, 0.006), (16, 0.004), (18, 0.003), (20, 0.0027), (22, 0.0013)]
E_BOT_REL = [(-34, 0.0013), (-33, 0.0027), (-32, 0.0027), (-31, 0.0013), (-29, 0.0013), (-28, 0.0054),
             (-27, 0.0027), (-26, 0.004), (-25, 0.0027), (-24, 0.0027), (-22, 0.002), (-21, 0.004),
             (-20, 0.0027), (-18, 0.004), (-16, 0.005), (-14, 0.007), (-12, 0.008), (-10, 0.009), (-8, 0.011),
             (-6, 0.015), (-5, 0.02), (-4, 0.035), (-3, 0.08), (-2, 0.3), (-1, 3), (0, 100), (1, 3), (2, 0.3),
             (3, 0.08), (4, 0.035), (5, 0.02), (6, 0.013), (8, 0.009), (10, 0.007), (12, 0.005), (14, 0.004),
             (16, 0.003), (18, 0.0027), (19, 0.0013)]

# ---------------- Panel (f) ----------------
F_SURF_ABS = [(-18, 0.0013), (-16, 0.0013), (-15, 0.0027), (-14, 0.0027), (-13, 0.0013), (-10, 0.0013),
              (-9, 0.0027), (-8, 0.0013), (-7, 0.003), (-6, 0.002), (-5, 0.006), (-4, 0.009), (-3, 0.02),
              (-2, 0.1), (-1, 3), (0, 100), (1, 3), (2, 0.12), (3, 0.04), (4, 0.02), (5, 0.009), (6, 0.013),
              (7, 0.012), (8, 0.012), (9, 0.01), (10, 0.009), (11, 0.008), (12, 0.007), (13, 0.006),
              (14, 0.006), (15, 0.0055), (16, 0.005), (17, 0.005), (18, 0.004), (19, 0.003), (20, 0.0027),
              (21, 0.0013), (28, 0.0013)]
F_MID_ABS = [(-17, 0.0013), (-15, 0.0013), (-14, 0.004), (-13, 0.0013), (-11, 0.0013), (-10, 0.003),
             (-9, 0.0027), (-8, 0.0013), (-7, 0.004), (-6, 0.003), (-5, 0.009), (-4, 0.006), (-3, 0.02),
             (-2, 0.1), (-1, 3), (0, 100), (1, 3), (2, 0.12), (3, 0.04), (4, 0.02), (5, 0.01), (6, 0.012),
             (7, 0.009), (8, 0.016), (9, 0.01), (10, 0.008), (11, 0.005), (12, 0.006), (13, 0.006),
             (14, 0.005), (15, 0.004), (16, 0.0045), (17, 0.004), (18, 0.003), (19, 0.002), (20, 0.0027),
             (21, 0.0027), (22, 0.0013), (24, 0.0013)]
F_BOT_ABS = [(-12, 0.0013), (-11, 0.004), (-10, 0.0013), (-9, 0.003), (-8, 0.0013), (-7, 0.004), (-6, 0.0013),
             (-5, 0.005), (-4, 0.008), (-3, 0.02), (-2, 0.1), (-1, 3), (0, 100), (1, 3), (2, 0.12), (3, 0.04),
             (4, 0.02), (5, 0.012), (6, 0.01), (7, 0.008), (8, 0.007), (9, 0.006), (10, 0.005), (11, 0.004),
             (12, 0.005), (13, 0.004), (14, 0.003), (15, 0.002), (16, 0.0013), (20, 0.0013)]
F_SURF_REL = [(-5, 0.0013), (-4, 0.004), (-3, 0.03), (-2, 0.5), (-1, 10), (0, 100), (1, 5), (2, 0.05),
              (3, 0.0013)]
F_MID_REL = [(-13, 0.0013), (-12, 0.003), (-11, 0.0027), (-10, 0.004), (-9, 0.002), (-8, 0.0035), (-7, 0.005),
             (-6, 0.004), (-5, 0.008), (-4, 0.01), (-3, 0.03), (-2, 0.15), (-1, 4), (0, 100), (1, 4), (2, 0.2),
             (3, 0.06), (4, 0.025), (5, 0.012), (6, 0.014), (7, 0.008), (8, 0.01), (9, 0.007), (10, 0.005),
             (11, 0.007), (12, 0.006), (13, 0.005), (14, 0.005), (16, 0.004), (18, 0.004), (19, 0.003),
             (20, 0.002), (21, 0.0013), (22, 0.0013)]
F_BOT_REL = [(-15, 0.0013), (-14, 0.005), (-13, 0.003), (-12, 0.0013), (-11, 0.004), (-10, 0.002), (-9, 0.005),
             (-8, 0.0027), (-7, 0.006), (-6, 0.003), (-5, 0.008), (-4, 0.012), (-3, 0.03), (-2, 0.15), (-1, 4),
             (0, 100), (1, 4), (2, 0.2), (3, 0.06), (4, 0.025), (5, 0.015), (6, 0.01), (7, 0.009), (8, 0.006),
             (9, 0.012), (10, 0.004), (11, 0.006), (12, 0.004), (13, 0.003), (14, 0.005), (15, 0.003),
             (16, 0.004), (17, 0.0027), (18, 0.002), (19, 0.0013)]

PANELS = [
    [A_SURF_ABS, A_MID_ABS, A_BOT_ABS, A_SURF_REL, A_MID_REL, A_BOT_REL],
    [B_SURF_ABS, B_MID_ABS, B_BOT_ABS, B_SURF_REL, B_MID_REL, B_BOT_REL],
    [C_SURF_ABS, C_MID_ABS, C_BOT_ABS, C_SURF_REL, C_MID_REL, C_BOT_REL],
    [D_SURF_ABS, D_MID_ABS, D_BOT_ABS, D_SURF_REL, D_MID_REL, D_BOT_REL],
    [E_SURF_ABS, E_MID_ABS, E_BOT_ABS, E_SURF_REL, E_MID_REL, E_BOT_REL],
    [F_SURF_ABS, F_MID_ABS, F_BOT_ABS, F_SURF_REL, F_MID_REL, F_BOT_REL],
]

RED = '#ff1414'
BLUE = '#1717f5'
MAGENTA = '#ff18ff'
COLORS = [RED, BLUE, MAGENTA, RED, BLUE, MAGENTA]
STYLES = ['-', '-', '-', ':', ':', ':']
GRID = '#dcdcdc'


def dibuja_panel(ax, series):
    """Dibuja las seis curvas de un panel y da formato a los ejes."""
    handles = [None] * 6
    # primero las relativas, luego las absolutas encima
    for i in [3, 4, 5, 0, 1, 2]:
        xs = [p[0] for p in series[i]]
        ys = [p[1] for p in series[i]]
        lw = 1.7 if STYLES[i] == '-' else 1.6
        h, = ax.plot(xs, ys, color=COLORS[i], linestyle=STYLES[i], lw=lw, label=LABELS[i])
        handles[i] = h

    ax.set_yscale('log')
    ax.set_xlim(-100, 100)
    ax.set_ylim(0.001, 100)
    ax.xaxis.set_major_locator(FixedLocator(X_TICKS))
    ax.yaxis.set_major_locator(FixedLocator(Y_TICKS))
    ax.yaxis.set_minor_locator(FixedLocator([]))
    ax.yaxis.set_major_formatter(FuncFormatter(lambda v, pos: f"{v:.3f}"))
    ax.xaxis.set_major_formatter(FuncFormatter(lambda v, pos: f"{v:.0f}"))
    ax.grid(True, color=GRID, lw=1.0)
    ax.set_axisbelow(True)

    for s in ['left', 'bottom']:
        ax.spines[s].set_color('#222222')
        ax.spines[s].set_linewidth(1.6)
    for s in ['top', 'right']:
        ax.spines[s].set_color(GRID)
        ax.spines[s].set_linewidth(1.0)

    ax.tick_params(axis='x', direction='inout', length=6, width=1.2, pad=8, labelsize=13.5, colors='#111111')
    ax.tick_params(axis='y', direction='out', length=4, width=1.2, pad=4, labelsize=13.5, colors='#111111')

    ax.set_xlabel(X_LABEL, fontsize=13.5)
    ax.xaxis.set_label_coords(0.5, -0.13)
    ax.set_ylabel(Y_LABEL, fontsize=14.5)
    ax.yaxis.set_label_coords(-0.142, 0.5)

    ax.legend(handles=handles, ncol=2, loc='upper left', bbox_to_anchor=(0.0, 0.963),
              frameon=False, fontsize=13.5, handlelength=1.6, handletextpad=0.1,
              columnspacing=2.5, labelspacing=0.8, borderpad=0.1, borderaxespad=0.0)


def main():
    fig = plt.figure(figsize=(13.38, 10.28), dpi=100)
    W, H = 1338.0, 1028.0
    lefts = [103, 773]
    bottoms = [293, 633, 973]
    letter_x = [50, 720]
    for k, series in enumerate(PANELS):
        fila, col = k // 2, k % 2
        ax = fig.add_axes([lefts[col] / W, 1 - bottoms[fila] / H, 537 / W, 275 / H])
        dibuja_panel(ax, series)
        fig.text(letter_x[col] / W, 1 - (bottoms[fila] + 40) / H, LETTERS[k],
                 fontsize=14.5, ha='center', va='center')
    fig.savefig('out.png', dpi=100)


if __name__ == "__main__":
    main()
